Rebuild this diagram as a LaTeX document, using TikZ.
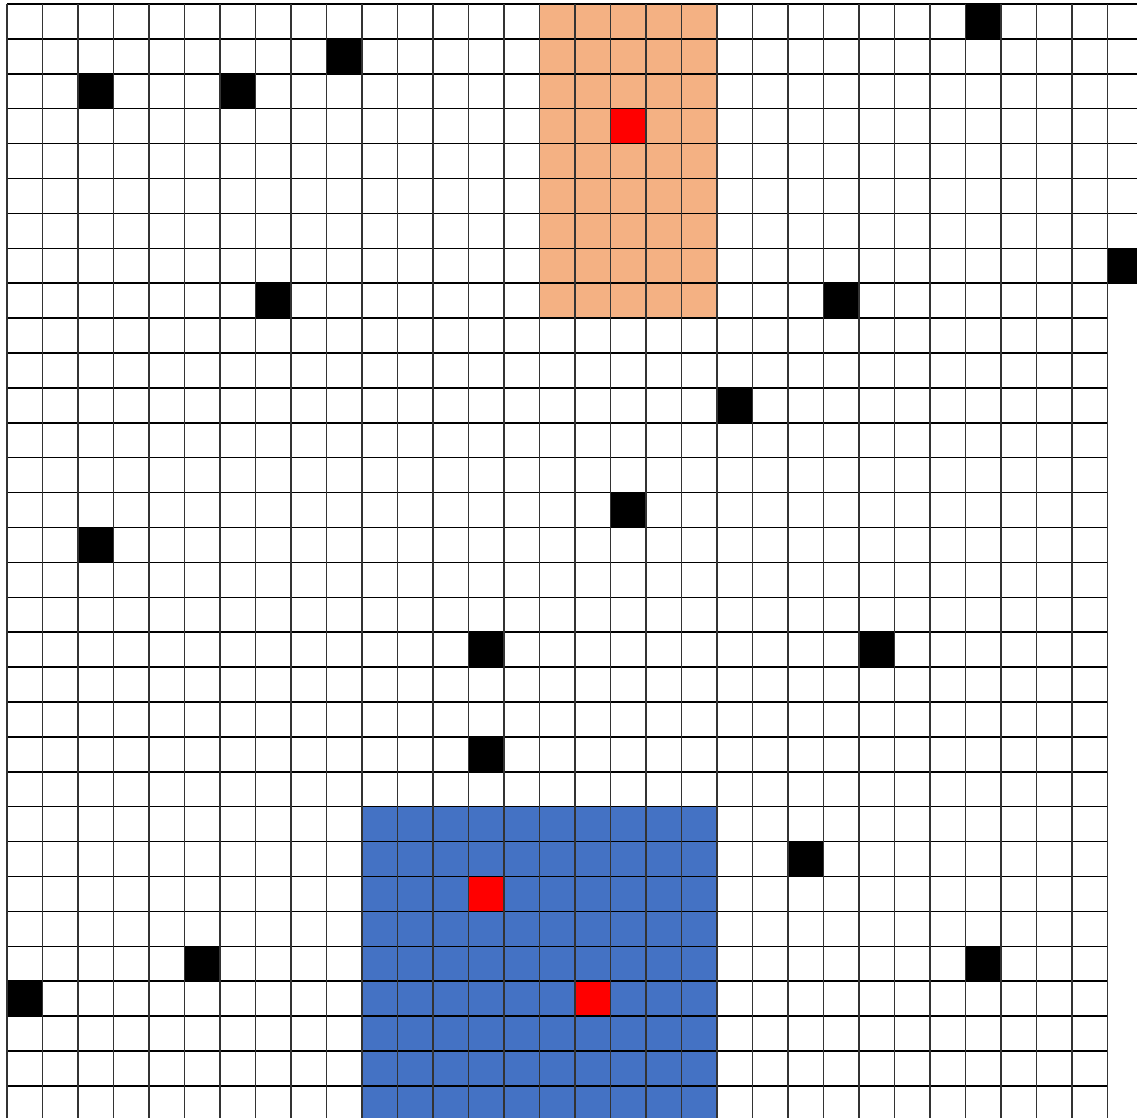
\documentclass[tikz,border=0pt]{standalone}
\usepackage{tikz}
\definecolor{peach}{HTML}{F4B183}
\definecolor{steel}{HTML}{4472C4}

\begin{document}
\begin{tikzpicture}[x=1cm, y=-0.983cm,
      wall/.style={fill=black},
      goal/.style={fill=red},
      hline/.style={draw=black, line width=1.2pt},
      vline/.style={draw=black!80, line width=1pt}
    ]
    \useasboundingbox (-0.197,-0.115) rectangle (31.83,31.92);
    \clip (-0.197,-0.115) rectangle (31.83,31.92);
    % shaded zones
    \fill[peach] (15,0) rectangle (20,9);
    \fill[steel] (10,23) rectangle (20,32);
    % obstacles and targets
    \foreach \c/\r in {27/0, 9/1, 2/2, 6/2, 31/7, 7/8, 23/8, 20/11, 17/14, 2/15,
                       13/18, 24/18, 13/21, 22/24, 5/27, 27/27, 0/28}
      \fill[wall] (\c,\r) rectangle ++(1,1);
    \foreach \c/\r in {17/3, 13/25, 16/28}
      \fill[goal] (\c,\r) rectangle ++(1,1);
    % grid
    \foreach \r in {0,...,8} \draw[hline] (0,\r) -- (32,\r);
    \foreach \r in {9,...,31} \draw[hline] (0,\r) -- (31,\r);
    \foreach \c in {0,...,31} \draw[vline] (\c,0) -- (\c,32);
  \end{tikzpicture}
\end{document}
